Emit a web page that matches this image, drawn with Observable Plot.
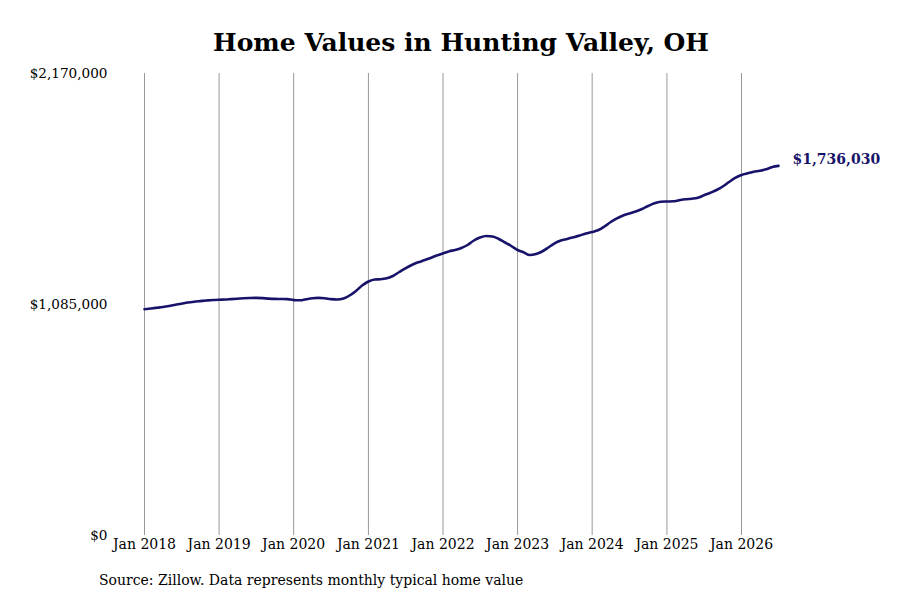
<!DOCTYPE html>
<html>
<head>
<meta charset="utf-8">
<script src="https://cdn.jsdelivr.net/npm/d3@7"></script>
<script src="https://cdn.jsdelivr.net/npm/@observablehq/plot@0.6"></script>
<style>
  html, body { margin: 0; padding: 0; background: #fff; }
  body { width: 900px; height: 600px; overflow: hidden; font-family: "DejaVu Serif", serif; }
  #title { height: 60px; box-sizing: border-box; padding-top: 28px; padding-left: 22px; text-align: center; font-weight: bold; font-size: 25px; line-height: 30px; color: #000; }
  #caption { position: absolute; left: 99px; top: 572px; font-size: 14px; color: #000; }
</style>
</head>
<body>
<div id="title">Home Values in Hunting Valley, OH</div>
<div id="chart"></div>
<div id="caption">Source: Zillow. Data represents monthly typical home value</div>
<script>
const startYear = 2018;
const homeValues = [
  1063000, 1066200, 1069500, 1073300, 1078000, 1083600, 1088800, 1094400, 1098200, 1101000, 1103800, 1106200,
  1107600, 1108500, 1110400, 1112300, 1114200, 1115500, 1116000, 1115100, 1112700, 1111300, 1110900, 1110400,
  1105700, 1104700, 1109400, 1114200, 1116000, 1114200, 1110400, 1108500, 1113200, 1127300, 1148400, 1174200,
  1193000, 1202400, 1203400, 1208000, 1218900, 1237700, 1255000, 1270600, 1283200, 1292600, 1303400, 1315200,
  1325500, 1334900, 1341000, 1350400, 1364500, 1385600, 1399700, 1406800, 1404400, 1392700, 1376200, 1359800,
  1341000, 1329200, 1317500, 1322200, 1334000, 1352700, 1372500, 1385600, 1392700, 1400600, 1409100, 1418500,
  1425500, 1434900, 1451400, 1472500, 1489900, 1503000, 1512400, 1521800, 1533600, 1547700, 1560300, 1567400,
  1568800, 1569700, 1574400, 1579100, 1581900, 1586200, 1597900, 1609700, 1622800, 1639300, 1660400, 1679200,
  1693300, 1701300, 1708300, 1713000, 1720100, 1730800, 1736030
];
const yTicks = [0, 1085000, 2170000];
const xTickYears = [2018, 2019, 2020, 2021, 2022, 2023, 2024, 2025, 2026];
const endLabel = "$1,736,030";

const data = homeValues.map((v, i) => ({date: new Date(startYear, i, 1), value: v}));
const xTicks = xTickYears.map(y => new Date(y, 0, 1));
const last = data[data.length - 1];

const chart = Plot.plot({
  width: 900,
  height: 505,
  marginTop: 13,
  marginBottom: 30,
  marginLeft: 144,
  marginRight: 122,
  style: {fontFamily: "DejaVu Serif", fontSize: "14px", color: "#000", background: "#fff"},
  x: {type: "utc", domain: [data[0].date, last.date]},
  y: {domain: [0, 2170000]},
  marks: [
    Plot.ruleX(xTicks, {stroke: "#999", strokeWidth: 1, strokeOpacity: 1}),
    Plot.axisX({ticks: xTicks, tickSize: 0, tickPadding: 4, tickFormat: d3.timeFormat("Jan %Y"), label: null, fontSize: 14}),
    Plot.axisY({ticks: yTicks, tickSize: 0, tickPadding: 37, tickFormat: d3.format("$,"), label: null, fontSize: 13.6}),
    Plot.lineY(data, {x: "date", y: "value", stroke: "#17136a", strokeWidth: 2.6, curve: "monotone-x"}),
    Plot.text([last], {x: "date", y: "value", text: () => endLabel, dx: 14, dy: -6, textAnchor: "start", fill: "#17136a", fontWeight: "bold", fontSize: 14})
  ]
});
document.getElementById("chart").appendChild(chart);
</script>
</body>
</html>
